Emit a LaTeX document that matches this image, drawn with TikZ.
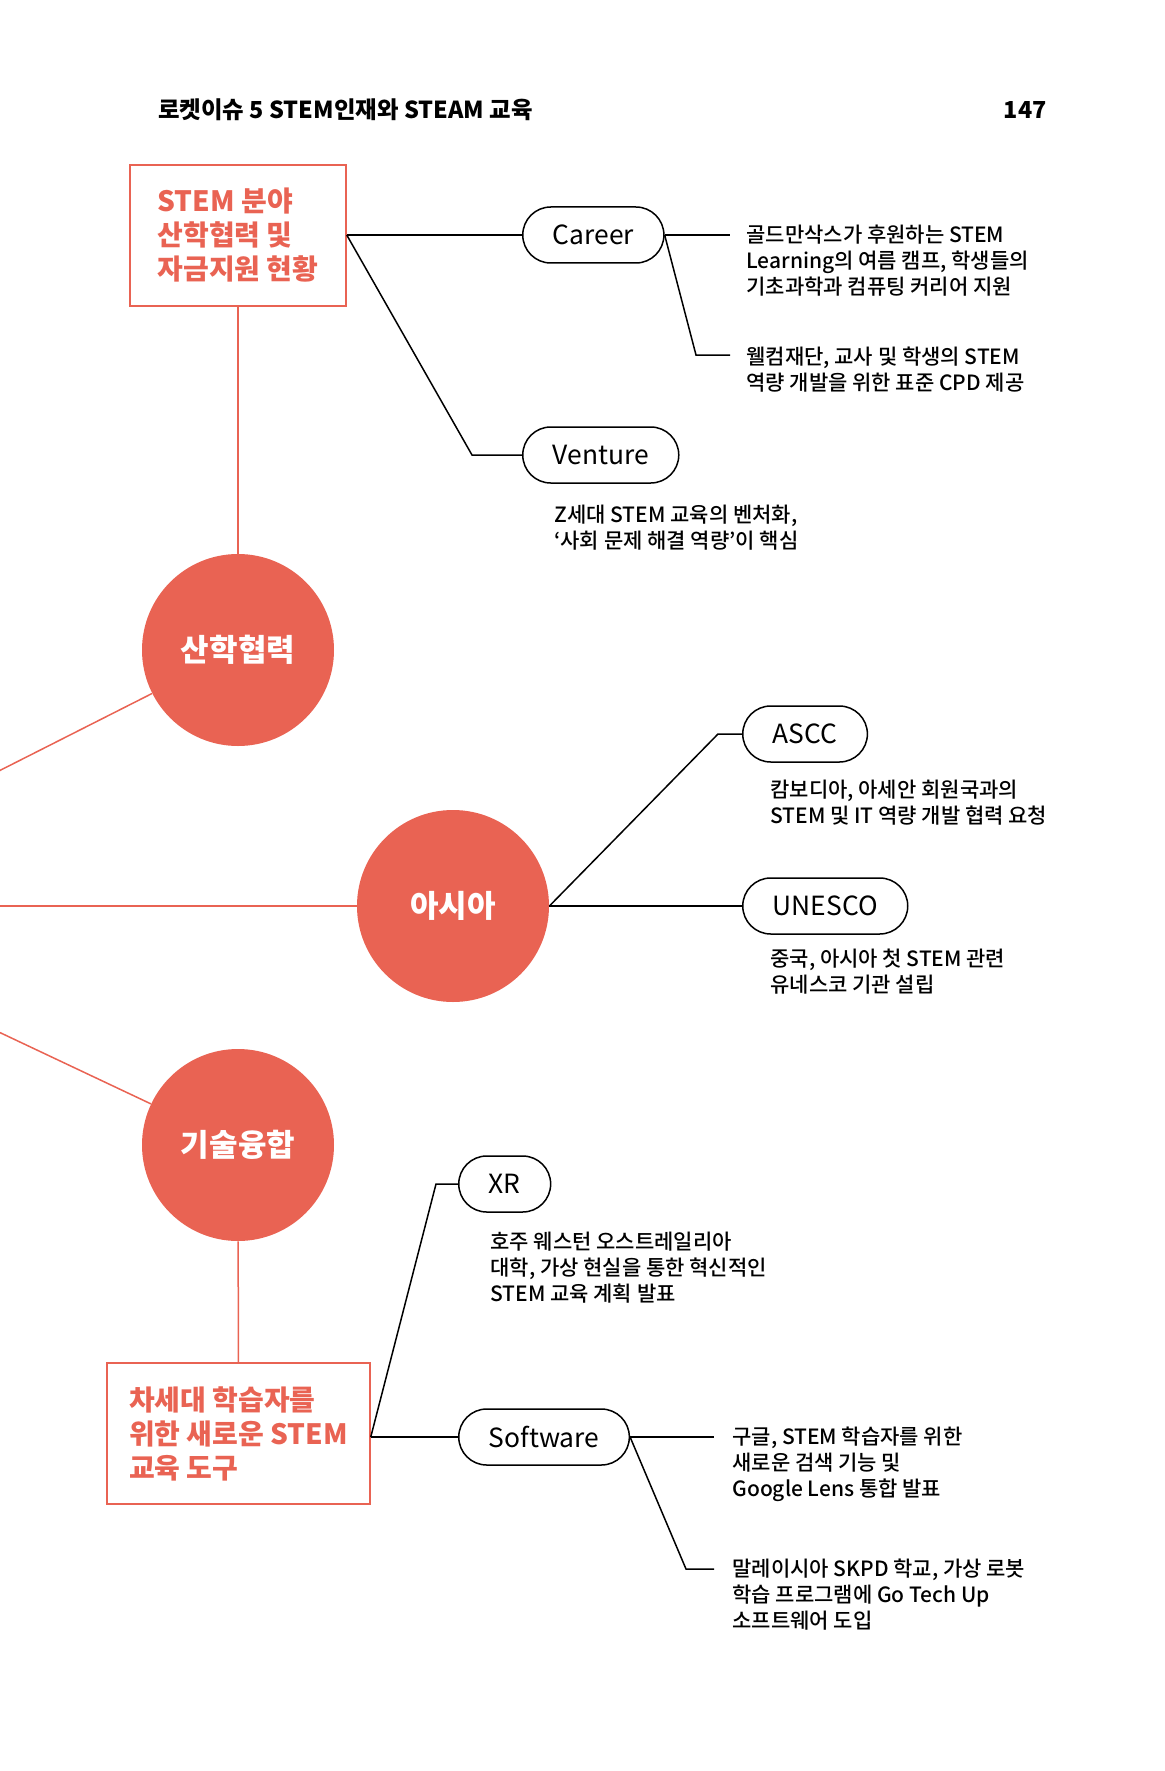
\documentclass[tikz,border=0pt]{standalone}
\usepackage{fontspec}
\setmainfont{Noto Sans CJK KR}[RawFeature=+palt]
\newfontfamily\descfont{Noto Sans CJK KR Medium}[RawFeature=+palt]
\definecolor{stemred}{RGB}{233,99,83}

\begin{document}
\begin{tikzpicture}[x=0.5pt,y=-0.5pt,
    link/.style={draw=black,line width=0.75pt},
    redlink/.style={draw=stemred,line width=0.75pt},
    bubble/.style={circle,fill=stemred,minimum size=96pt,inner sep=0pt,text=white,font=\fontsize{15.5}{18}\selectfont\bfseries},
    topic/.style={draw=stemred,line width=0.75pt,text=stemred,align=left,inner sep=0pt,font=\fontsize{14}{17}\selectfont\bfseries},
    pill/.style={draw,line width=0.75pt,rounded corners=14pt,minimum height=28pt,inner xsep=15pt,inner ysep=0pt,anchor=west,font=\fontsize{13.2}{15}\selectfont},
    desc/.style={align=left,inner sep=0pt,anchor=north west,font=\descfont\fontsize{10.5}{13}\selectfont}]
    \useasboundingbox (0,0) rectangle (1165,1771);
    \clip (0,0) rectangle (1165,1771);
    \node[inner sep=0pt,anchor=west,font=\fontsize{11.7}{13}\selectfont\bfseries] (runhead) at (158,110) {로켓이슈 5 STEM인재와 STEAM 교육};
    \node[inner sep=0pt,anchor=east,font=\fontsize{11.7}{13}\selectfont\bfseries] (folio) at (1047,110) {147};

    \node[topic,minimum width=108pt,minimum height=70.5pt] (fund) at (238,235.5) {STEM 분야\\산학협력 및\\자금지원 현황};
    \node[bubble] (sanhak) at (238,650) {산학협력};
    \node[bubble] (asia) at (453,906) {아시아};
    \node[bubble] (gisul) at (238,1145) {기술융합};
    \node[topic,minimum width=131.5pt,minimum height=70.5pt] (tools) at (238.5,1433.5) {차세대 학습자를\\위한 새로운 STEM\\교육 도구};

    \node[pill] (career) at (522,235) {Career};
    \node[pill] (venture) at (522,455) {Venture};
    \node[pill] (ascc) at (742,734) {ASCC};
    \node[pill] (unesco) at (742,906) {UNESCO};
    \node[pill] (xr) at (458,1184) {XR};
    \node[pill] (software) at (458,1437) {Software};

    \node[desc] (goldman) at (746,225) {골드만삭스가 후원하는 STEM\\Learning의 여름 캠프, 학생들의\\기초과학과 컴퓨팅 커리어 지원};
    \node[desc] (wellcome) at (746,347) {웰컴재단, 교사 및 학생의 STEM\\역량 개발을 위한 표준 CPD 제공};
    \node[desc] (zgen) at (554,505) {Z세대 STEM 교육의 벤처화,\\‘사회 문제 해결 역량’이 핵심};
    \node[desc] (cambodia) at (770,780) {캄보디아, 아세안 회원국과의\\STEM 및 IT 역량 개발 협력 요청};
    \node[desc] (china) at (770,949) {중국, 아시아 첫 STEM 관련\\유네스코 기관 설립};
    \node[desc] (perth) at (490,1232) {호주 웨스턴 오스트레일리아\\대학, 가상 현실을 통한 혁신적인\\STEM 교육 계획 발표};
    \node[desc] (google) at (732,1427) {구글, STEM 학습자를 위한\\새로운 검색 기능 및\\Google Lens 통합 발표};
    \node[desc] (skpd) at (732,1559) {말레이시아 SKPD 학교, 가상 로봇\\학습 프로그램에 Go Tech Up\\소프트웨어 도입};

    \coordinate (hub) at (-268,906);
    \coordinate (goldin) at (730,235);
    \coordinate (wellin) at (730,355);
    \coordinate (googlein) at (714,1437);
    \coordinate (skpdin) at (714,1569);

    \draw[redlink] (hub) -- (sanhak);
    \draw[redlink] (hub) -- (asia);
    \draw[redlink] (hub) -- (gisul);
    \draw[redlink] (fund) -- (sanhak);
    \draw[redlink] (gisul) -- (tools);

    \draw[link] (fund.east |- career.west) -- (career.west);
    \draw[link] (fund.east |- career.west) -- ([xshift=-25pt]venture.west) -- (venture.west);
    \draw[link] (career.east) -- (goldin);
    \draw[link] (career.east) -- ([xshift=-17pt]wellin) -- (wellin);
    \draw[link] (asia.east) -- ([xshift=-12pt]ascc.west) -- (ascc.west);
    \draw[link] (asia.east) -- (unesco.west);
    \draw[link] (tools.east |- software.west) -- ([xshift=-11pt]xr.west) -- (xr.west);
    \draw[link] (tools.east |- software.west) -- (software.west);
    \draw[link] (software.east) -- (googlein);
    \draw[link] (software.east) -- ([xshift=-14pt]skpdin) -- (skpdin);
\end{tikzpicture}
\end{document}
